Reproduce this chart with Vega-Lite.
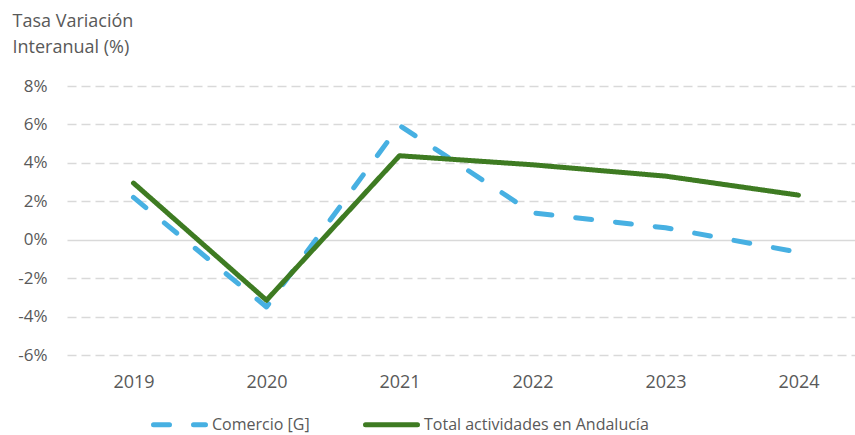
{
  "$schema": "https://vega.github.io/schema/vega-lite/v6.json",
  "width": 788,
  "height": 269,
  "autosize": {"type": "none"},
  "padding": {"left": 67, "top": 86, "right": 0, "bottom": 80},
  "background": "white",
  "config": {"view": {"stroke": null}, "font": "Open Sans"},
  "data": {
    "values": [
      {"year": 2019, "series": "Comercio [G]", "value": 2.2},
      {"year": 2020, "series": "Comercio [G]", "value": -3.5},
      {"year": 2021, "series": "Comercio [G]", "value": 5.95},
      {"year": 2022, "series": "Comercio [G]", "value": 1.4},
      {"year": 2023, "series": "Comercio [G]", "value": 0.62},
      {"year": 2024, "series": "Comercio [G]", "value": -0.65},
      {"year": 2019, "series": "Total actividades en Andalucía", "value": 2.95},
      {"year": 2020, "series": "Total actividades en Andalucía", "value": -3.15},
      {"year": 2021, "series": "Total actividades en Andalucía", "value": 4.37},
      {"year": 2022, "series": "Total actividades en Andalucía", "value": 3.9},
      {"year": 2023, "series": "Total actividades en Andalucía", "value": 3.31},
      {"year": 2024, "series": "Total actividades en Andalucía", "value": 2.32}
    ]
  },
  "mark": {"type": "line", "strokeWidth": 5, "strokeCap": "round", "strokeJoin": "round"},
  "encoding": {
    "x": {
      "field": "year",
      "type": "quantitative",
      "scale": {"domain": [2018.5, 2024.425], "nice": false, "zero": false},
      "axis": {
        "values": [2019, 2020, 2021, 2022, 2023, 2024],
        "format": "d",
        "grid": false,
        "ticks": false,
        "domain": false,
        "labelPadding": 18,
        "labelFontSize": 18,
        "labelColor": "#595959",
        "title": null
      }
    },
    "y": {
      "field": "value",
      "type": "quantitative",
      "scale": {"domain": [-6, 8], "nice": false},
      "axis": {
        "values": [-6, -4, -2, 0, 2, 4, 6, 8],
        "labelExpr": "datum.value + '%'",
        "grid": true,
        "gridColor": "#D9D9D9",
        "gridWidth": 1.3,
        "gridDash": {"condition": {"test": "datum.value === 0", "value": [1, 0]}, "value": [9, 5]},
        "ticks": false,
        "domain": false,
        "labelPadding": 20,
        "labelFontSize": 17,
        "labelColor": "#595959",
        "title": ["Tasa Variación", "Interanual (%)"],
        "titleAngle": 0,
        "titleAlign": "left",
        "titleBaseline": "alphabetic",
        "titleX": -55,
        "titleY": -60,
        "titleLineHeight": 26,
        "titleFontSize": 18,
        "titleFontWeight": "normal",
        "titleColor": "#595959"
      }
    },
    "color": {
      "field": "series",
      "type": "nominal",
      "scale": {"domain": ["Comercio [G]", "Total actividades en Andalucía"], "range": ["#47B0E2", "#3E7B22"]},
      "legend": {
        "title": null,
        "orient": "none",
        "legendX": 84,
        "legendY": 310,
        "direction": "horizontal",
        "columnPadding": 45,
        "labelOffset": 4,
        "labelLimit": 400,
        "symbolType": "stroke",
        "symbolSize": 2704,
        "symbolStrokeWidth": 5,
        "labelFontSize": 16,
        "labelColor": "#595959",
        "encode": {"symbols": {"update": {"strokeCap": {"value": "round"}}}}
      }
    },
    "strokeDash": {
      "field": "series",
      "type": "nominal",
      "scale": {"domain": ["Comercio [G]", "Total actividades en Andalucía"], "range": [[16, 24], [1, 0]]},
      "legend": {
        "title": null,
        "orient": "none",
        "legendX": 84,
        "legendY": 310,
        "direction": "horizontal",
        "columnPadding": 45,
        "labelOffset": 4,
        "labelLimit": 400,
        "symbolType": "stroke",
        "symbolSize": 2704,
        "symbolStrokeWidth": 5,
        "labelFontSize": 16,
        "labelColor": "#595959",
        "encode": {"symbols": {"update": {"strokeCap": {"value": "round"}}}}
      }
    }
  }
}
